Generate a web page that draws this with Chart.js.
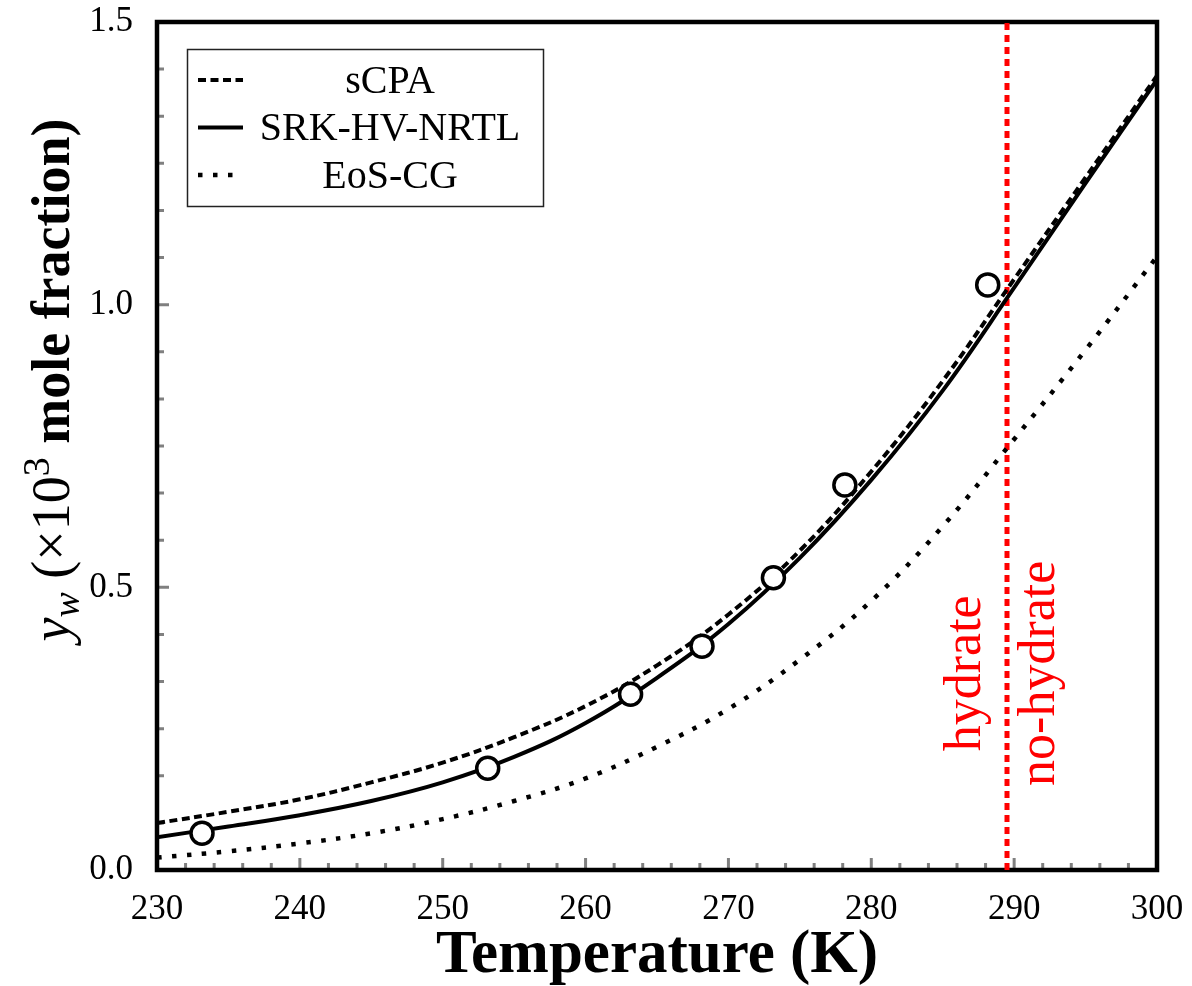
<!DOCTYPE html>
<html>
<head>
<meta charset="utf-8">
<script src="https://cdn.jsdelivr.net/npm/chart.js@4.4.0/dist/chart.umd.min.js"></script>
<style>
  html, body { margin: 0; padding: 0; background: #fff; }
  canvas { display: block; }
</style>
</head>
<body>
<canvas id="c" width="1192" height="986"></canvas>
<script>
// model curves, every 5 K
const temps     = [230, 235, 240, 245, 250, 255, 260, 265, 270, 275, 280, 285, 290, 295, 300];
const sCPA      = [0.083, 0.103, 0.125, 0.155, 0.190, 0.235, 0.290, 0.362, 0.452, 0.565, 0.705, 0.865, 1.045, 1.225, 1.405];
const srkHvNrtl = [0.058, 0.077, 0.097, 0.122, 0.155, 0.200, 0.260, 0.340, 0.435, 0.552, 0.690, 0.848, 1.030, 1.215, 1.398];
const eosCG     = [0.022, 0.033, 0.047, 0.065, 0.090, 0.122, 0.162, 0.218, 0.285, 0.372, 0.476, 0.608, 0.762, 0.920, 1.085];

// experimental points
const expT = [233.15, 253.15, 263.15, 268.15, 273.15, 278.15, 288.15];
const expY = [0.065, 0.180, 0.311, 0.396, 0.517, 0.681, 1.035];

// hydrate / no-hydrate boundary temperature
const hydrateT = 289.5;

const xTicks = [230, 240, 250, 260, 270, 280, 290, 300];
const yTicks = [0.0, 0.5, 1.0, 1.5];
const xMinorStep = 2;
const yMinorStep = 0.5 / 6;

const SERIF = "'Liberation Serif', 'Times New Roman', serif";

function pts(xs, ys) { return xs.map((x, i) => ({ x: x, y: ys[i] })); }

function noPad(s) {
    s.paddingTop = 0; s.paddingBottom = 0; s.paddingLeft = 0; s.paddingRight = 0;
}

const decor = {
    id: 'decor',
    beforeDatasetsDraw(chart) {
        const { ctx, chartArea: a, scales: { x, y } } = chart;
        ctx.save();
        // inward gray ticks
        ctx.strokeStyle = '#808080';
        ctx.lineWidth = 3;
        ctx.beginPath();
        for (let t = x.min; t <= x.max + 1e-6; t += xMinorStep) {
            const px = x.getPixelForValue(t);
            const len = xTicks.includes(Math.round(t)) ? 12 : 7;
            ctx.moveTo(px, a.bottom);
            ctx.lineTo(px, a.bottom - len);
        }
        for (let k = 0; k * yMinorStep <= y.max + 1e-6; k++) {
            const py = y.getPixelForValue(k * yMinorStep);
            const len = k % 6 === 0 ? 12 : 7;
            ctx.moveTo(a.left, py);
            ctx.lineTo(a.left + len, py);
        }
        ctx.stroke();
        // frame
        ctx.strokeStyle = '#000';
        ctx.lineWidth = 4.5;
        ctx.strokeRect(a.left, a.top, a.right - a.left, a.bottom - a.top);
        ctx.restore();
    },
    afterDatasetsDraw(chart) {
        const { ctx, scales: { x, y } } = chart;
        ctx.save();

        // legend
        ctx.strokeStyle = '#222';
        ctx.lineWidth = 1.5;
        ctx.strokeRect(187.5, 49.5, 356, 157);
        [1, 2, 3].forEach((di, i) => {
            const ds = chart.data.datasets[di];
            const ry = 80 + i * 47.5;
            ctx.strokeStyle = ds.borderColor;
            ctx.lineWidth = ds.borderWidth;
            ctx.setLineDash(ds.borderDash || []);
            ctx.beginPath();
            ctx.moveTo(198, ry);
            ctx.lineTo(243, ry);
            ctx.stroke();
            ctx.setLineDash([]);
            ctx.fillStyle = '#000';
            ctx.font = '40px ' + SERIF;
            ctx.textAlign = 'center';
            ctx.textBaseline = 'middle';
            ctx.fillText(ds.label, 390, ry + 2);
        });

        // hydrate / no-hydrate labels
        const rx = x.getPixelForValue(hydrateT);
        const ly = y.getPixelForValue(0.348);
        ctx.fillStyle = '#ff0000';
        ctx.font = '52px ' + SERIF;
        ctx.textAlign = 'center';
        ctx.textBaseline = 'middle';
        [['hydrate', rx - 41], ['no-hydrate', rx + 33]].forEach(([txt, cx]) => {
            ctx.save();
            ctx.translate(cx, ly);
            ctx.rotate(-Math.PI / 2);
            ctx.fillText(txt, 0, 0);
            ctx.restore();
        });

        // y axis title with mixed styles
        const parts = [
            { t: 'y', f: 'italic 54px ' + SERIF, dy: 0 },
            { t: 'w', f: 'italic 38px ' + SERIF, dy: 10 },
            { t: ' (\u00d710', f: '54px ' + SERIF, dy: 0 },
            { t: '3', f: '38px ' + SERIF, dy: -20 },
            { t: ' mole fraction)', f: 'bold 54px ' + SERIF, dy: 0 }
        ];
        let total = 0;
        parts.forEach(p => { ctx.font = p.f; p.w = ctx.measureText(p.t).width; total += p.w; });
        ctx.translate(52, 380);
        ctx.rotate(-Math.PI / 2);
        ctx.fillStyle = '#000';
        ctx.textAlign = 'left';
        ctx.textBaseline = 'alphabetic';
        let cx = -total / 2;
        parts.forEach(p => {
            ctx.font = p.f;
            ctx.fillText(p.t, cx, 17 + p.dy);
            cx += p.w;
        });
        ctx.restore();
    }
};

new Chart(document.getElementById('c'), {
    type: 'scatter',
    data: {
        datasets: [
            {
                label: 'Experimental',
                data: pts(expT, expY),
                showLine: false,
                pointRadius: 11, pointHoverRadius: 11,
                pointBorderWidth: 3.5,
                pointBorderColor: '#000', pointBackgroundColor: '#fff'
            },
            {
                label: 'sCPA',
                data: pts(temps, sCPA),
                showLine: true, pointRadius: 0,
                borderColor: '#000', borderWidth: 4, borderDash: [8, 4.5],
                tension: 0.4
            },
            {
                label: 'SRK-HV-NRTL',
                data: pts(temps, srkHvNrtl),
                showLine: true, pointRadius: 0,
                borderColor: '#000', borderWidth: 4,
                tension: 0.4
            },
            {
                label: 'EoS-CG',
                data: pts(temps, eosCG),
                showLine: true, pointRadius: 0,
                borderColor: '#000', borderWidth: 4.5, borderDash: [4.5, 10.5],
                tension: 0.4
            },
            {
                label: 'hydrate boundary',
                data: [{ x: hydrateT, y: 0 }, { x: hydrateT, y: 1.5 }],
                showLine: true, pointRadius: 0,
                borderColor: '#ff0000', borderWidth: 5, borderDash: [7, 5]
            }
        ]
    },
    options: {
        responsive: false,
        animation: false,
        devicePixelRatio: 1,
        layout: { padding: { left: 0, right: 35, top: 22, bottom: 0 } },
        plugins: { legend: { display: false }, tooltip: { enabled: false } },
        scales: {
            x: {
                type: 'linear', min: 230, max: 300,
                afterBuildTicks: s => { s.ticks = xTicks.map(v => ({ value: v })); },
                grid: { display: false, drawTicks: false },
                border: { display: false },
                ticks: { padding: 19, color: '#000', maxRotation: 0, font: { family: SERIF, size: 35 } },
                title: {
                    display: true, text: 'Temperature (K)', color: '#000',
                    font: { family: SERIF, size: 61, weight: 'bold', lineHeight: 0.9 },
                    padding: { top: 0, bottom: 2 }
                },
                afterFit(s) { s.height = 116; noPad(s); }
            },
            y: {
                type: 'linear', min: 0, max: 1.5,
                afterBuildTicks: s => { s.ticks = yTicks.map(v => ({ value: v })); },
                grid: { display: false, drawTicks: false },
                border: { display: false },
                ticks: { padding: 24, color: '#000', font: { family: SERIF, size: 35 }, callback: v => v.toFixed(1) },
                afterFit(s) { s.width = 157; noPad(s); }
            }
        }
    },
    plugins: [decor]
});
</script>
</body>
</html>
